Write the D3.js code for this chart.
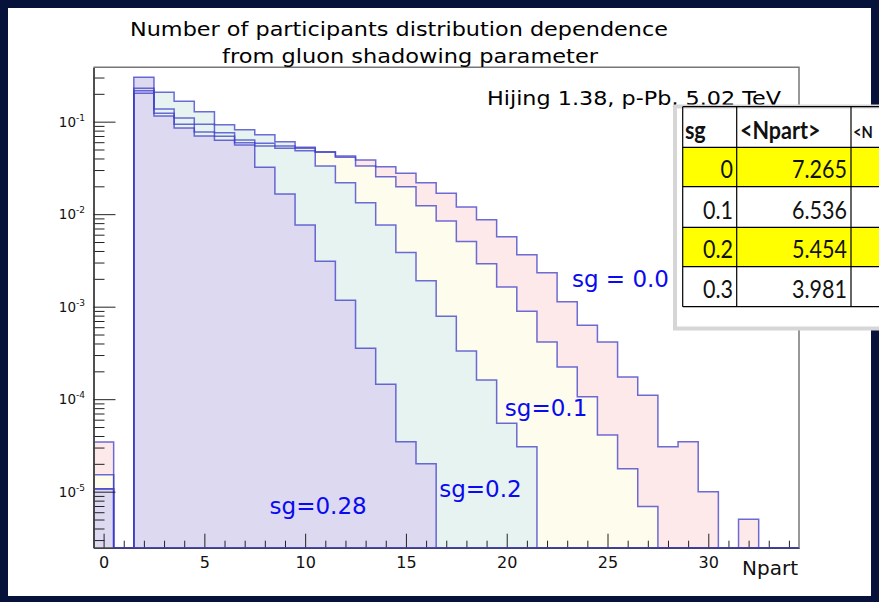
<!DOCTYPE html>
<html><head><meta charset="utf-8">
<script src="https://cdn.jsdelivr.net/npm/d3@7"></script>
<style>html,body{margin:0;padding:0;background:#06123a;} svg{display:block;}</style>
</head><body>
<svg id="c" width="879" height="602"></svg>
<script>
// ---------------- data ----------------
const npart = [0,1,2,3,4,5,6,7,8,9,10,11,12,13,14,15,16,17,18,19,20,21,22,23,24,25,26,27,28,29,30,31,32,33,34];
// sg = 0.0
const sg00 = [3.44e-5,0,0.2028,0.137,0.1096,0.0937,0.0760,0.0634,0.0584,0.0546,0.0529,0.0474,0.0426,0.0385,0.0326,0.0277,0.0219,0.01683,0.01197,0.00873,0.00571,0.00364,0.00233,0.00113,6.29e-4,4.15e-4,1.74e-4,1.10e-4,3.06e-5,3.47e-5,1.0e-5,0,5.03e-6,0,0];
// sg = 0.1
const sg01 = [1.52e-5,0,0.2163,0.1233,0.0937,0.0774,0.0695,0.0593,0.0546,0.0515,0.0486,0.0467,0.0412,0.0332,0.0254,0.0198,0.01236,0.00844,0.00507,0.00292,0.00163,8.9e-4,4.15e-4,2.23e-4,1.064e-4,4.1e-5,1.77e-5,6.9e-6,0,0,0,0,0,0,0];
// sg = 0.2
const sg02 = [1.07e-5,0,0.2297,0.208,0.166,0.128,0.0928,0.0820,0.0724,0.0608,0.0516,0.0332,0.0219,0.0133,0.00764,0.00386,0.00191,7.87e-4,3.32e-4,1.61e-4,5.48e-5,3.06e-5,0,0,0,0,0,0,0,0,0,0,0,0,0];
// sg = 0.28
const sg028 = [1.076e-5,0,0.302,0.1153,0.0855,0.0700,0.0629,0.0560,0.0321,0.01654,0.00764,0.0031,0.001173,3.55e-4,1.45e-4,3.47e-5,2.01e-5,0,0,0,0,0,0,0,0,0,0,0,0,0,0,0,0,0,0];

const seriesLabels = ["sg = 0.0","sg=0.1","sg=0.2","sg=0.28"];
const xMajorTicks = [0,5,10,15,20,25,30];
const yDecades = [1e-5,1e-4,1e-3,1e-2,1e-1];
const yExponents = ["-5","-4","-3","-2","-1"];
const titleLines = ["Number of participants distribution dependence","from gluon shadowing parameter"];
const infoText = "Hijing 1.38, p-Pb, 5.02 TeV";
const xTitle = "Npart";
const tableHeader = ["sg","<Npart>","<N"];
const tableSg = ["0","0.1","0.2","0.3"];
const tableNpart = ["7.265","6.536","5.454","3.981"];

// ---------------- layout ----------------
const svg = d3.select("#c");
const L = 93.5, R = 799, T = 67.3, B = 547.7;
const x = d3.scaleLinear().domain([-0.5, 34.5]).range([L, R]);
const y = d3.scaleLog().domain([2.48e-6, 0.387]).range([B, T]);

svg.append("rect").attr("width",879).attr("height",602).attr("fill","#06123a");
svg.append("rect").attr("x",8).attr("y",8).attr("width",863).attr("height",588).attr("fill","#ffffff");

const fills = ["#fde8ea","#fefcec","#e6f3f1","#dcd9f0"];
const series = [sg00, sg01, sg02, sg028];

svg.append("clipPath").attr("id","plotclip").append("rect")
  .attr("x",L).attr("y",T).attr("width",R-L).attr("height",B-T);

function stepPoints(vals){
  const pts = [[x(npart[0]-0.5), B]];
  npart.forEach((n,i)=>{
    const yy = vals[i] > 0 ? y(vals[i]) : B;
    pts.push([x(n-0.5), yy]); pts.push([x(n+0.5), yy]);
  });
  pts.push([x(npart[npart.length-1]+0.5), B]);
  return pts;
}
const line = d3.line();
const gPlot = svg.append("g").attr("clip-path","url(#plotclip)");
series.forEach((s,i)=>{
  gPlot.append("path").attr("d", line(stepPoints(s))+"Z").attr("fill",fills[i]).attr("stroke","none");
});
series.forEach((s,i)=>{
  gPlot.append("path").attr("d", line(stepPoints(s))).attr("fill","none")
    .attr("stroke","rgba(60,60,200,0.75)").attr("stroke-width",1.5);
});

// ---------------- axes ----------------
const axisColor = "#222";
const minorY = y.ticks().filter(v => !yDecades.some(d => Math.abs(d - v)/d < 1e-6));
const gyMinor = svg.append("g").attr("transform",`translate(${L},0)`)
  .call(d3.axisLeft(y).tickValues(minorY).tickSizeInner(-11).tickSizeOuter(0).tickFormat(""));
const gyMajor = svg.append("g").attr("transform",`translate(${L},0)`)
  .call(d3.axisLeft(y).tickValues(yDecades).tickSizeInner(-22).tickSizeOuter(0).tickFormat(""));
[gyMinor, gyMajor].forEach(g=>{
  g.selectAll("line").attr("stroke",axisColor);
  g.select(".domain").attr("stroke","#444").attr("stroke-width",1.5);
});
yDecades.forEach((d,i)=>{
  const t = svg.append("text").attr("x",85).attr("y",y(d)+5).attr("text-anchor","end")
    .attr("font-family","DejaVu Sans").attr("font-size",13.5).attr("fill","#111");
  t.append("tspan").text("10");
  t.append("tspan").attr("font-size",9).attr("dy",-6).text(yExponents[i]);
});

const minorX = npart.filter(n => !xMajorTicks.includes(n));
const gxMinor = svg.append("g").attr("transform",`translate(0,${B})`)
  .call(d3.axisBottom(x).tickValues(minorX).tickSizeInner(-7).tickSizeOuter(0).tickFormat(""));
const gxMajor = svg.append("g").attr("transform",`translate(0,${B})`)
  .call(d3.axisBottom(x).tickValues(xMajorTicks).tickSizeInner(-14).tickSizeOuter(0).tickPadding(9).tickFormat(d3.format("d")));
[gxMinor, gxMajor].forEach(g=>{
  g.selectAll("line").attr("stroke",axisColor);
  g.select(".domain").attr("stroke","#444").attr("stroke-width",1.5);
});
gxMajor.selectAll("text").attr("font-family","DejaVu Sans").attr("font-size",16).attr("fill","#111");

svg.append("line").attr("x1",x(1-0.5)).attr("x2",R).attr("y1",B).attr("y2",B)
  .attr("stroke","rgba(60,60,200,0.75)").attr("stroke-width",1.5);

svg.append("path").attr("d",`M${L},${T}H${R}V${B}`).attr("fill","none").attr("stroke","#777").attr("stroke-width",1.5);

// ---------------- texts ----------------
svg.append("text").attr("x",130).attr("y",36).attr("font-family","DejaVu Sans").attr("font-size",19)
  .attr("textLength",538).attr("lengthAdjust","spacingAndGlyphs").text(titleLines[0]);
svg.append("text").attr("x",222).attr("y",63).attr("font-family","DejaVu Sans").attr("font-size",19)
  .attr("textLength",376).attr("lengthAdjust","spacingAndGlyphs").text(titleLines[1]);
svg.append("text").attr("x",487).attr("y",105).attr("font-family","DejaVu Sans").attr("font-size",19)
  .attr("textLength",294).attr("lengthAdjust","spacingAndGlyphs").text(infoText);

svg.append("text").attr("x",798).attr("y",575).attr("text-anchor","end").attr("font-family","DejaVu Sans")
  .attr("font-size",20).attr("fill","#111").text(xTitle);

const labelPos = [[669,286.7],[587.3,416],[521.7,496.7],[366.7,514.3]];
seriesLabels.forEach((s,i)=>{
  svg.append("text").attr("x",labelPos[i][0]).attr("y",labelPos[i][1]).attr("text-anchor","end")
    .attr("font-family","DejaVu Sans").attr("font-size",23).attr("fill","#0a0af0").text(s);
});

// ---------------- table (pasted) ----------------
const tb = svg.append("g");
tb.append("rect").attr("x",675).attr("y",106.5).attr("width",220).attr("height",222)
  .attr("fill","#fff").attr("stroke","#d6d6d6").attr("stroke-width",4);
const colX = [682.7, 736.7, 851, 960];
const rowY = [106.7, 147.3, 186.7, 227.3, 266.7, 306.7];
[0,2].forEach(r=>{
  tb.append("rect").attr("x",colX[0]).attr("y",rowY[r+1]).attr("width",colX[3]-colX[0]).attr("height",rowY[r+2]-rowY[r+1]).attr("fill","#ffff00");
});
rowY.forEach(yy=>tb.append("line").attr("x1",colX[0]).attr("x2",879).attr("y1",yy).attr("y2",yy).attr("stroke","#000").attr("stroke-width",1.2));
colX.forEach(xx=>tb.append("line").attr("x1",xx).attr("x2",xx).attr("y1",rowY[0]).attr("y2",rowY[5]).attr("stroke","#000").attr("stroke-width",1.2));
function tText(txt, xx, yy, anchor, bold, size){
  const t = tb.append("text").attr("x",xx).attr("y",yy).attr("text-anchor",anchor)
    .attr("font-family","Lato, 'Open Sans', sans-serif").attr("font-size",size||25).attr("fill","#111")
    .attr("font-weight",bold?"bold":"normal").text(txt);
  const w = t.node().getComputedTextLength()*0.86;
  t.attr("textLength", w).attr("lengthAdjust","spacingAndGlyphs");
}
tText(tableHeader[0], 685, 139, "start", true);
tText(tableHeader[1], 740, 139, "start", true);
tText(tableHeader[2], 853, 138, "start", true, 17);
tableSg.forEach((s,i)=>{
  const base = rowY[i+2]-8.5;
  tText(s, 733, base, "end", false);
  tText(tableNpart[i], 847, base, "end", false);
});
</script>
</body></html>
